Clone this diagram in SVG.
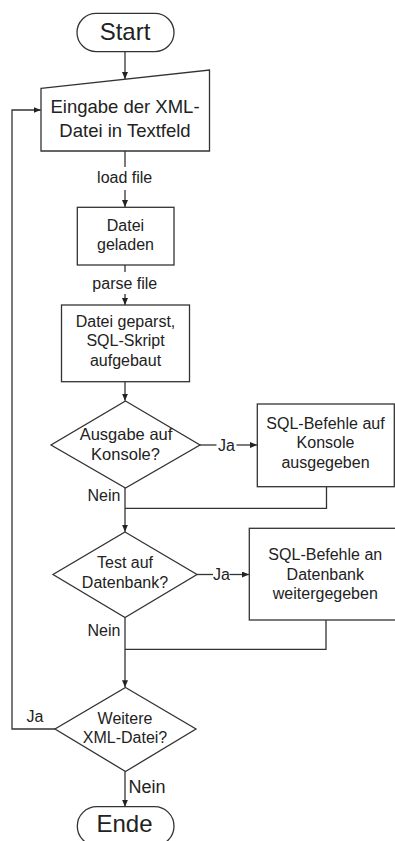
<svg xmlns="http://www.w3.org/2000/svg" width="395" height="841" viewBox="0 0 395 841">
<style>
.s{fill:#fff;stroke:#333;stroke-width:1.3}
.c{fill:none;stroke:#333;stroke-width:1.3}
text{font-family:"Liberation Sans",Arial,sans-serif;fill:#222;text-anchor:middle}
.t{font-size:16px}
.big{font-size:24px}
.lbl{font-size:16px}
</style>
<defs>
<marker id="a" markerUnits="userSpaceOnUse" markerWidth="8" markerHeight="7" refX="7" refY="3" orient="auto">
<path d="M0,0 L7,3 L0,6 z" fill="#222"/>
</marker>
</defs>
<rect width="395" height="841" fill="#fff"/>
<g id="connectors">
<path class="c" d="M125,51.7 V79" marker-end="url(#a)"/>
<path class="c" d="M125,151 V167"/>
<path class="c" d="M125,190 V207" marker-end="url(#a)"/>
<path class="c" d="M125,265 V272"/>
<path class="c" d="M125,294 V305" marker-end="url(#a)"/>
<path class="c" d="M125,381.7 V400.7" marker-end="url(#a)"/>
<path class="c" d="M200,445 H216.5"/>
<path class="c" d="M236.5,445 H257" marker-end="url(#a)"/>
<path class="c" d="M125,488 V531.7" marker-end="url(#a)"/>
<path class="c" d="M326.5,486.7 V508.3 H125"/>
<path class="c" d="M197,574.5 H213"/>
<path class="c" d="M229.5,574.5 H249" marker-end="url(#a)"/>
<path class="c" d="M125,617.5 V687.3" marker-end="url(#a)"/>
<path class="c" d="M326,620 V649.3 H125"/>
<path class="c" d="M55,729 H12 V110 H40.7" marker-end="url(#a)"/>
<path class="c" d="M125,771.5 V806.7" marker-end="url(#a)"/>
<text class="lbl" x="124.7" y="183">load file</text>
<text class="lbl" x="124.8" y="289">parse file</text>
<text class="lbl" x="226.5" y="450.5">Ja</text>
<text class="lbl" x="221.5" y="580">Ja</text>
<text class="lbl" x="104" y="500.7">Nein</text>
<text class="lbl" x="104" y="636">Nein</text>
<text class="lbl" x="35" y="721.7">Ja</text>
<text x="147" y="792.7" style="font-size:18px">Nein</text>
</g>
<g id="start">
<rect class="s" x="77" y="13.3" width="97" height="38.4" rx="19.2"/>
<text class="big" x="125" y="40">Start</text>
</g>
<g id="eingabe">
<path class="s" d="M41,88.3 L209.5,70 V151 H41 z"/>
<text x="125" y="113" style="font-size:18.5px">Eingabe der XML-</text>
<text x="125" y="137" style="font-size:18.5px">Datei in Textfeld</text>
</g>
<g id="geladen">
<rect class="s" x="77.3" y="207.3" width="96.7" height="57.7"/>
<text class="t" x="125.5" y="230.7">Datei</text>
<text class="t" x="125.5" y="250">geladen</text>
</g>
<g id="geparst">
<rect class="s" x="61.5" y="305" width="128" height="76.7"/>
<text class="t" x="125.5" y="326.7">Datei geparst,</text>
<text class="t" x="125.5" y="345.7">SQL-Skript</text>
<text class="t" x="125.5" y="366">aufgebaut</text>
</g>
<g id="ausgabe">
<path class="s" d="M125.5,401 L200,445 L125.5,488 L51,445 z"/>
<text class="t" x="126" y="440" style="font-size:16.5px">Ausgabe auf</text>
<text class="t" x="125.5" y="460" style="font-size:16.5px">Konsole?</text>
</g>
<g id="konsole">
<rect class="s" x="257.3" y="404" width="137" height="82.7"/>
<text class="t" x="325.5" y="429.3">SQL-Befehle auf</text>
<text class="t" x="325.5" y="448.3">Konsole</text>
<text class="t" x="325.5" y="468.3">ausgegeben</text>
</g>
<g id="test">
<path class="s" d="M125,532 L197,574.5 L125,617.5 L53,574.5 z"/>
<text class="t" x="125" y="568.3">Test auf</text>
<text class="t" x="125" y="588.3">Datenbank?</text>
</g>
<g id="datenbank">
<rect class="s" x="249.3" y="528.3" width="152" height="91.7"/>
<text class="t" x="325.3" y="560">SQL-Befehle an</text>
<text class="t" x="325.3" y="580">Datenbank</text>
<text class="t" x="325.3" y="599.3">weitergegeben</text>
</g>
<g id="weitere">
<path class="s" d="M125.5,687.5 L196,729 L125.5,771.5 L55,729 z"/>
<text class="t" x="125" y="724">Weitere</text>
<text class="t" x="125" y="743.3">XML-Datei?</text>
</g>
<g id="ende">
<rect class="s" x="77.3" y="806.7" width="96.7" height="39" rx="19.5"/>
<text class="big" x="124.5" y="831.7">Ende</text>
</g>
</svg>
